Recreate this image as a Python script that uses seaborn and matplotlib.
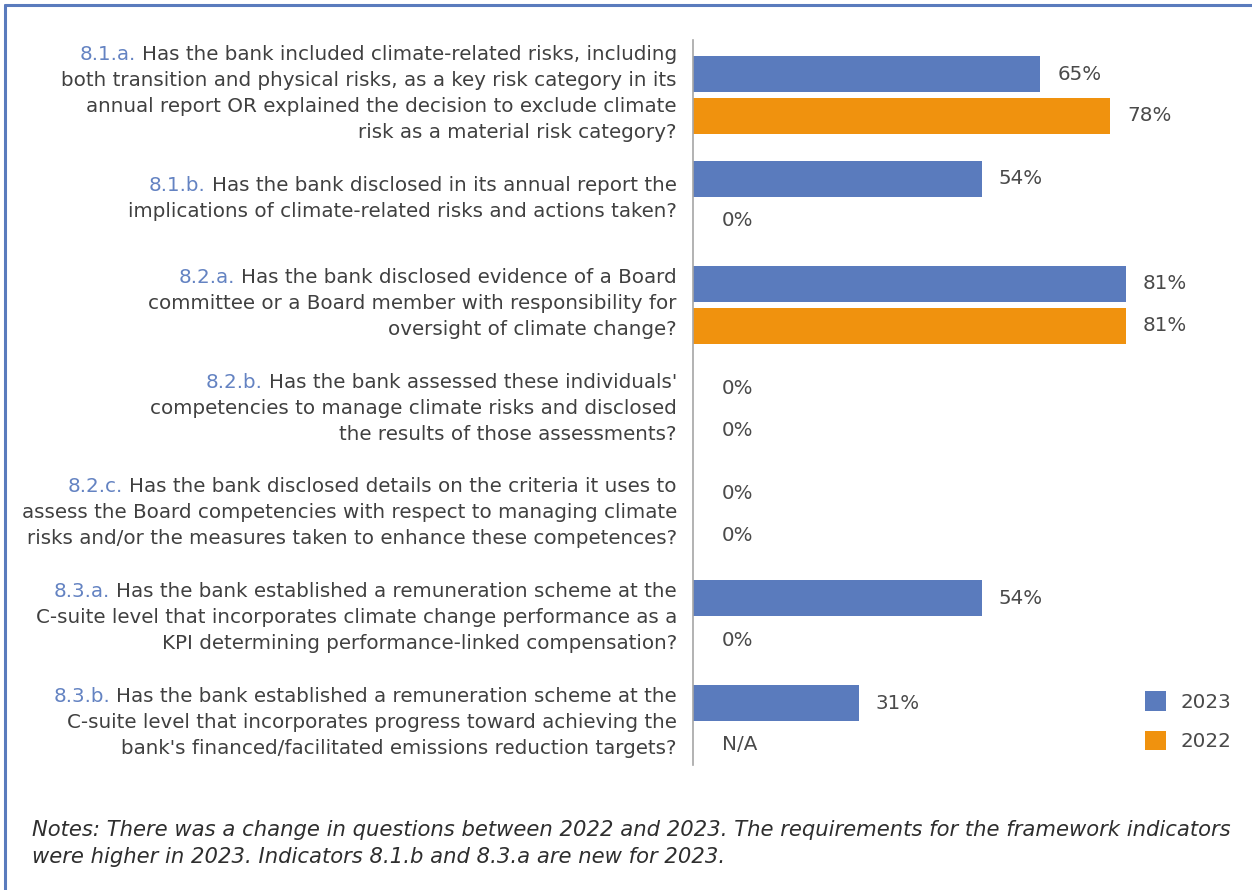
import numpy as np
import pandas as pd
import matplotlib
matplotlib.use("Agg")
import matplotlib.pyplot as plt
from matplotlib.lines import Line2D
import seaborn as sns

# ---------------- data ----------------
prefixes = ["8.1.a.", "8.1.b.", "8.2.a.", "8.2.b.", "8.2.c.", "8.3.a.", "8.3.b."]
questions = [
    ["Has the bank included climate-related risks, including",
     "both transition and physical risks, as a key risk category in its",
     "annual report OR explained the decision to exclude climate",
     "risk as a material risk category?"],
    ["Has the bank disclosed in its annual report the",
     "implications of climate-related risks and actions taken?"],
    ["Has the bank disclosed evidence of a Board",
     "committee or a Board member with responsibility for",
     "oversight of climate change?"],
    ["Has the bank assessed these individuals'",
     "competencies to manage climate risks and disclosed",
     "the results of those assessments?"],
    ["Has the bank disclosed details on the criteria it uses to",
     "assess the Board competencies with respect to managing climate",
     "risks and/or the measures taken to enhance these competences?"],
    ["Has the bank established a remuneration scheme at the",
     "C-suite level that incorporates climate change performance as a",
     "KPI determining performance-linked compensation?"],
    ["Has the bank established a remuneration scheme at the",
     "C-suite level that incorporates progress toward achieving the",
     "bank's financed/facilitated emissions reduction targets?"],
]
years = ["2023", "2022"]
values_2023 = [65, 54, 81, 0, 0, 54, 31]
values_2022 = [78, 0, 81, 0, 0, 0, np.nan]
note_lines = [
    "Notes: There was a change in questions between 2022 and 2023. The requirements for the framework indicators",
    "were higher in 2023. Indicators 8.1.b and 8.3.a are new for 2023.",
]

# ---------------- styling ----------------
BLUE = "#5a7bbd"
ORANGE = "#f0920e"
PREFIX_COL = "#6483c2"
TEXT_COL = "#404040"
VAL_COL = "#4a4a4a"
FONT = ["DejaVu Sans"]

sns.set_theme(style="white")
plt.rcParams["font.family"] = FONT

W, H, DPI = 1252, 890, 100
fig = plt.figure(figsize=(W / DPI, H / DPI), dpi=DPI)
fig.patch.set_facecolor("white")
fig.canvas.draw()
renderer = fig.canvas.get_renderer()


def fit_size(text, target_px, **kw):
    t = fig.text(0, 0, text, fontsize=10, **kw)
    w = t.get_window_extent(renderer).width
    t.remove()
    return 10 * target_px / w


FS = fit_size(questions[0][1], 615)
FS_NOTE = fit_size(note_lines[0], 1200, style="italic")

ax_left, ax_right, ax_top, ax_bot = 693, 1240, 40, 765
ax = fig.add_axes([ax_left / W, 1 - ax_bot / H, (ax_right - ax_left) / W, (ax_bot - ax_top) / H])

cats = list(range(len(prefixes)))
df = pd.DataFrame({
    "cat": [str(c) for c in cats] * 2,
    "year": [years[0]] * len(cats) + [years[1]] * len(cats),
    "value": values_2023 + values_2022,
})
sns.barplot(data=df, y="cat", x="value", hue="year", hue_order=years,
            palette=[BLUE, ORANGE], orient="h", width=0.8, gap=0.14,
            saturation=1, ax=ax, legend=True, edgecolor="none", linewidth=0,
            order=[str(c) for c in cats])

px_per_unit = (1126 - 693) / 81.0
ax.set_xlim(0, (ax_right - ax_left) / px_per_unit)
ax.set_ylim(6 + 41 / 104.8, -55 / 104.8)
ax.set_xlabel("")
ax.set_ylabel("")
ax.set_xticks([])
ax.set_yticks([])
for s in ["top", "right", "bottom"]:
    ax.spines[s].set_visible(False)
ax.spines["left"].set_color("#a6a6a6")
ax.spines["left"].set_linewidth(1.2)

# value labels
for series, off in ((values_2023, -0.2), (values_2022, 0.2)):
    for i, v in enumerate(series):
        if np.isnan(v):
            txt, x, dx = "N/A", 0, 29
        else:
            txt, x = f"{int(v)}%", v
            dx = 29 if v == 0 else 17
        ax.annotate(txt, xy=(x, i + off), xytext=(dx, 0), textcoords="offset pixels",
                    ha="left", va="center", fontsize=FS, color=VAL_COL)

# category labels (multi-line, right aligned, coloured prefix)
spacing = 26
label_dx = -(693 - 677)
for i, (pre, lines) in enumerate(zip(prefixes, questions)):
    n = len(lines)
    for j, line in enumerate(lines):
        dy = ((n - 1) / 2 - j) * spacing + 3.5
        ax.annotate(line, xy=(0, i), xycoords=("axes fraction", "data"),
                    xytext=(label_dx, dy), textcoords="offset pixels",
                    ha="right", va="center_baseline", fontsize=FS, color=TEXT_COL)
        if j == 0:
            full = ax.annotate(pre + " " + line, xy=(0, i), xycoords=("axes fraction", "data"),
                               xytext=(label_dx, dy), textcoords="offset pixels",
                               ha="right", va="center_baseline", fontsize=FS, alpha=0)
            wfull = full.get_window_extent(renderer).width
            full.remove()
            ax.annotate(pre, xy=(0, i), xycoords=("axes fraction", "data"),
                        xytext=(label_dx - wfull, dy), textcoords="offset pixels",
                        ha="left", va="center_baseline", fontsize=FS, color=PREFIX_COL)

# legend
fs_px = FS * DPI / 72
handles, labels = ax.get_legend_handles_labels()
ax.legend(handles, labels, loc="upper left",
          bbox_to_anchor=(1145 / W, 1 - 691 / H), bbox_transform=fig.transFigure,
          frameon=False, handlelength=21 / fs_px, handleheight=23 / fs_px,
          handletextpad=14 / fs_px, labelspacing=0.95, borderpad=0, borderaxespad=0,
          fontsize=FS, labelcolor=VAL_COL)

# notes
for k, line in enumerate(note_lines):
    fig.text(32 / W, 1 - (828 + 27 * k) / H, line, ha="left", va="center_baseline",
             fontsize=FS_NOTE, style="italic", color="#2e2e2e")

# border (top and left)
fig.add_artist(Line2D([5 / W, 1], [1 - 5 / H, 1 - 5 / H], transform=fig.transFigure,
                      color=BLUE, linewidth=2.2))
fig.add_artist(Line2D([5 / W, 5 / W], [0, 1 - 5 / H], transform=fig.transFigure,
                      color=BLUE, linewidth=2.2))

fig.savefig("out.png", dpi=DPI)
